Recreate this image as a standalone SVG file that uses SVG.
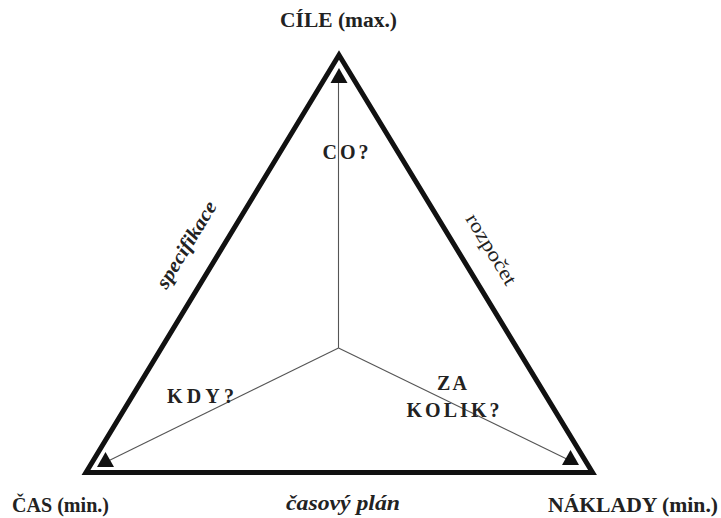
<svg xmlns="http://www.w3.org/2000/svg" width="721" height="518" viewBox="0 0 721 518">
  <style>
    .frame { fill: none; stroke: #111; stroke-width: 5; stroke-linejoin: miter; }
    .axis { fill: none; stroke: #555; stroke-width: 1.1; }
    .head { fill: #111; }
    .corner { font-family: "Liberation Serif", "DejaVu Serif", serif; font-weight: bold; font-size: 20px; fill: #222; }
    .side { font-family: "Liberation Serif", "DejaVu Serif", serif; font-size: 20px; fill: #222; }
    .italic { font-style: italic; font-weight: bold; }
    .q { font-family: "Liberation Serif", "DejaVu Serif", serif; font-weight: bold; font-size: 20px; fill: #222; }
  </style>

  <!-- outer triangle -->
  <g id="frame">
    <polygon class="frame" points="339,55 86,472.5 592.5,472.5"/>
  </g>

  <!-- inner axes from the centre to each corner -->
  <g id="connectors">
    <line class="axis" x1="338.5" y1="348" x2="338.5" y2="72"/>
    <line class="axis" x1="338.5" y1="348" x2="100" y2="465"/>
    <line class="axis" x1="338.5" y1="348" x2="577" y2="464"/>
    <polygon class="head" points="330.5,83 339,68 347.5,83"/>
    <polygon class="head" points="97,467 105.5,452 114,467"/>
    <polygon class="head" points="562,465 570.5,450 579,465"/>
  </g>

  <g id="goals">
    <text class="corner" x="280" y="27" textLength="117" lengthAdjust="spacingAndGlyphs">CÍLE (max.)</text>
  </g>
  <g id="time">
    <text class="corner" x="12" y="512" textLength="97" lengthAdjust="spacingAndGlyphs">ČAS (min.)</text>
  </g>
  <g id="costs">
    <text class="corner" x="548" y="512" textLength="170" lengthAdjust="spacingAndGlyphs">NÁKLADY (min.)</text>
  </g>

  <g id="side-labels">
    <text class="side italic" x="-49" y="0" textLength="98" lengthAdjust="spacingAndGlyphs" transform="translate(192,248) rotate(-58.75)">specifikace</text>
    <text class="side" x="-40" y="0" textLength="80" lengthAdjust="spacingAndGlyphs" transform="translate(485.7,252.6) rotate(58.75)">rozpočet</text>
    <text class="side italic" x="286" y="510" font-size="21" textLength="114" lengthAdjust="spacingAndGlyphs">časový plán</text>
  </g>

  <g id="questions">
    <text class="q" x="322.5" y="158.5" textLength="46" lengthAdjust="spacing">CO?</text>
    <text class="q" x="167" y="402.7" textLength="67" lengthAdjust="spacing">KDY?</text>
    <text class="q" x="437" y="389.5" textLength="30" lengthAdjust="spacing">ZA</text>
    <text class="q" x="406.5" y="416.5" textLength="93" lengthAdjust="spacing">KOLIK?</text>
  </g>
</svg>
